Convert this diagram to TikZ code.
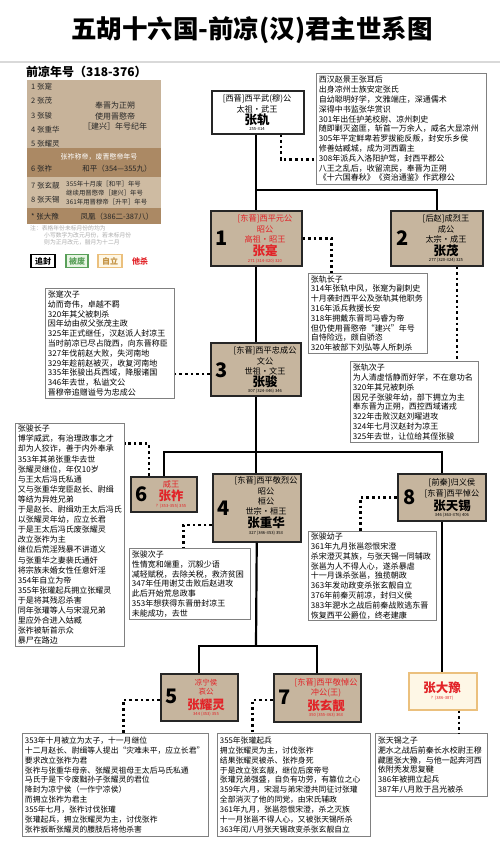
\documentclass[tikz,border=0pt]{standalone}
\usepackage{fontspec}
\setmainfont{Noto Sans CJK SC}
\definecolor{tanc}{RGB}{198,181,158}
\definecolor{tabA}{RGB}{199,179,154}
\definecolor{tabB}{RGB}{171,137,100}
\definecolor{tabC}{RGB}{206,187,162}
\definecolor{redc}{RGB}{226,35,40}
\definecolor{greenc}{RGB}{90,160,90}
\definecolor{greenfill}{RGB}{232,245,228}
\definecolor{orangec}{RGB}{235,192,125}
\definecolor{creamc}{RGB}{254,247,230}
\definecolor{orangetext}{RGB}{195,145,65}
\begin{document}
\begin{tikzpicture}[x=1pt,y=-1pt,
  king/.style={draw=black!85, line width=1.5pt, fill=tanc, inner sep=0, anchor=north west},
  num/.style={font=\fontsize{20}{20}\selectfont\bfseries, inner sep=0},
  ln/.style={font=\fontsize{8.2}{8.2}\selectfont, inner sep=0},
  nm/.style={font=\fontsize{12.5}{12.5}\selectfont\bfseries, inner sep=0},
  yr/.style={font=\fontsize{4.2}{4.2}\selectfont, inner sep=0},
  bio/.style={draw=black!50, line width=0.9pt, fill=white, anchor=north west, inner xsep=2.5pt, inner ysep=1.5pt, align=left, font=\fontsize{8}{9.8}\selectfont},
  sol/.style={line width=2.2pt, draw=black},
  dotl/.style={line width=2.5pt, draw=black, dash pattern=on 2.6pt off 3pt},
  tt/.style={font=\fontsize{7.5}{9}\selectfont, inner sep=0, text=black!85}]
\useasboundingbox (0,0) rectangle (500,855);
\fill[white] (0,0) rectangle (500,855);

% title
\node[font=\fontsize{25.5}{28}\selectfont\bfseries, inner sep=0] (title) at (252,30) {五胡十六国-前凉(汉)君主世系图};
\draw[gray!30, line width=2.5pt] (0,62) -- (500,62);

% era table
\node[anchor=west, font=\fontsize{12}{12}\selectfont\bfseries, inner sep=0] (hdr) at (26,72) {前凉年号（318-376）};
\fill[tabA] (27,80) rectangle (161,148);
\fill[tabB] (27,148) rectangle (161,177);
\fill[tabC] (27,177) rectangle (161,208);
\fill[tabB] (27,208) rectangle (161,224);
\node[tt,anchor=west] (k1) at (31,87) {1 张寔};
\node[tt,anchor=west] (k2) at (31,101) {2 张茂};
\node[tt,anchor=west] (k3) at (31,116) {3 张骏};
\node[tt,anchor=west] (k4) at (31,130) {4 张重华};
\node[tt,anchor=west] (k5) at (31,144) {5 张耀灵};
\node[tt, align=center, font=\fontsize{8}{10.5}\selectfont] (era1) at (115,116) {奉晋为正朔\\使用晋愍帝\\［建兴］年号纪年};
\node[tt, text=white, font=\fontsize{7}{7}\selectfont] (era2h) at (99,157) {张祚称帝，废晋愍帝年号};
\node[tt,anchor=west] (k6) at (31,169) {6 张祚};
\node[tt] (era2) at (117,169) {和平（354—355九）};
\node[tt,anchor=west] (k7) at (31,186) {7 张玄靓};
\node[tt,anchor=west] (k8) at (31,200) {8 张天锡};
\node[tt, anchor=west, align=left, font=\fontsize{6.4}{9.4}\selectfont] (era3) at (66,193) {355年十月废［和平］年号\\继续用晋愍帝［建兴］年号\\361年用晋穆帝［升平］年号};
\node[tt,anchor=west] (kx) at (31,217) {* 张大豫};
\node[tt] (era4) at (117,217) {凤凰（386二-387八）};
\node[anchor=north west, font=\fontsize{5.8}{7.3}\selectfont, text=gray!65, align=left, inner sep=0] (note) at (30,225) {注：表格年份未标月份的均为\\\hspace*{14pt}小写数字为改元月份，若未标月份\\\hspace*{14pt}则为正月改元，腊月为十二月};

% legend
\node[draw=black, line width=1.5pt, fill=white, minimum width=24pt, minimum height=13pt, inner sep=0, font=\fontsize{8}{8}\selectfont\bfseries] (lg1) at (43,261) {追封};
\node[draw=greenc, line width=1.2pt, fill=greenfill, text=greenc, minimum width=22pt, minimum height=13pt, inner sep=0, font=\fontsize{8}{8}\selectfont\bfseries] (lg2) at (77,261) {被废};
\node[draw=orangec, line width=1.2pt, fill=creamc, text=orangetext, minimum width=24pt, minimum height=13pt, inner sep=0, font=\fontsize{8}{8}\selectfont\bfseries] (lg3) at (110,261) {自立};
\node[text=redc, inner sep=0, font=\fontsize{8}{8}\selectfont\bfseries] (lg4) at (140,261) {他杀};

% ruler boxes
\node[king, fill=white, minimum width=92pt, minimum height=43pt] (n0) at (211,90) {};
\node[ln] (n0a) at (257,99) {[西晋]西平武(穆)公};
\node[ln] (n0b) at (257,109) {太祖·武王};
\node[nm] (n0c) at (257,120) {张轨};
\node[yr] (n0d) at (257,129) {255-314};

\node[king, minimum width=91pt, minimum height=55pt] (n1) at (210,210) {};
\node[num] (n1n) at (222,238) {1};
\node[ln,text=redc] (n1a) at (265,219) {[东晋]西平元公};
\node[ln,text=redc] (n1b) at (265,229) {昭公};
\node[ln,text=redc] (n1c) at (265,239) {高祖·昭王};
\node[nm,text=redc] (n1d) at (265,251) {张寔};
\node[yr,text=redc] (n1e) at (265,261) {271 (314-320) 320};

\node[king, minimum width=92pt, minimum height=55pt] (n2) at (390,210) {};
\node[num] (n2n) at (403,238) {2};
\node[ln] (n2a) at (446,219) {[后赵]成烈王};
\node[ln] (n2b) at (446,229) {成公};
\node[ln] (n2c) at (446,239) {太宗·成王};
\node[nm] (n2d) at (446,251) {张茂};
\node[yr] (n2e) at (446,260) {277 (320-324) 325};

\node[king, minimum width=90pt, minimum height=53pt] (n3) at (210,342) {};
\node[num] (n3n) at (222,370) {3};
\node[ln] (n3a) at (265,351) {[东晋]西平忠成公};
\node[ln] (n3b) at (265,361) {文公};
\node[ln] (n3c) at (265,371) {世祖·文王};
\node[nm] (n3d) at (265,382) {张骏};
\node[yr] (n3e) at (265,391) {307 (324-346) 346};

\node[king, minimum width=88pt, minimum height=68pt] (n4) at (212,473) {};
\node[num] (n4n) at (224,508) {4};
\node[ln] (n4a) at (266,481) {[东晋]西平敬烈公};
\node[ln] (n4b) at (266,491) {昭公};
\node[ln] (n4c) at (266,501) {桓公};
\node[ln] (n4d) at (266,511) {世宗·桓王};
\node[nm] (n4e) at (266,523) {张重华};
\node[yr] (n4f) at (266,533) {327 (346-353) 353};

\node[king, minimum width=66pt, minimum height=35pt] (n6) at (130,476) {};
\node[num] (n6n) at (142,494) {6};
\node[ln,text=redc] (n6a) at (171,484) {威王};
\node[nm,text=redc] (n6b) at (171,496) {张祚};
\node[yr,text=redc] (n6c) at (171,506) {？(353-355) 355};

\node[king, minimum width=88pt, minimum height=47pt] (n8) at (397,473) {};
\node[num] (n8n) at (410,497) {8};
\node[ln] (n8a) at (452,483) {[前秦]归义侯};
\node[ln] (n8b) at (452,494) {[东晋]西平悼公};
\node[nm] (n8c) at (452,506) {张天锡};
\node[yr] (n8d) at (452,515) {346 (363-376) 406};

\node[king, minimum width=77pt, minimum height=47pt] (n5) at (160,673) {};
\node[num] (n5n) at (172,696) {5};
\node[ln,text=redc,font=\fontsize{7.5}{7.5}\selectfont] (n5a) at (206,683) {凉宁侯};
\node[ln,text=redc,font=\fontsize{7.5}{7.5}\selectfont] (n5b) at (206,692) {哀公};
\node[nm,text=redc] (n5c) at (206,705) {张耀灵};
\node[yr,text=redc] (n5d) at (206,714) {344 (353) 355};

\node[king, minimum width=87pt, minimum height=48pt] (n7) at (273,673) {};
\node[num] (n7n) at (285,697) {7};
\node[ln,text=redc] (n7a) at (326,683) {[东晋]西平敬悼公};
\node[ln,text=redc] (n7b) at (326,693) {冲公(王)};
\node[nm,text=redc] (n7c) at (326,706) {张玄靓};
\node[yr,text=redc] (n7d) at (326,715) {350 (355-363) 363};

\node[king, draw=orangec, fill=creamc, minimum width=68pt, minimum height=37pt] (n9) at (408,672) {};
\node[nm,text=redc] (n9a) at (442,688) {张大豫};
\node[yr,text=redc] (n9b) at (442,698) {？(386-387)};

% bios
\node[bio, text width=165pt, minimum height=111pt] (bio0) at (316,73) {西汉赵景王张耳后\\出身凉州士族安定张氏\\自幼聪明好学，文雅端庄，深通儒术\\深得中书监张华赏识\\301年出任护羌校尉、凉州刺史\\随即剿灭盗匪，斩首一万余人，威名大显凉州\\305年平定鲜卑若罗拔能反叛，封安乐乡侯\\修善姑臧城，成为河西霸主\\308年派兵入洛阳护驾，封西平郡公\\八王之乱后，收留流民，奉晋为正朔\\《十六国春秋》《资治通鉴》作武穆公};

\node[bio, text width=114pt, minimum height=80pt] (bio1) at (308,273) {张轨长子\\314年张轨中风，张寔为副刺史\\十月袭封西平公及张轨其他职务\\316年派兵救援长安\\318年拥戴东晋司马睿为帝\\但仍使用晋愍帝“建兴”年号\\自恃险远，颇自骄恣\\320年被部下刘弘等人所刺杀};

\node[bio, text width=123pt, minimum height=81pt] (bio2) at (350,361) {张轨次子\\为人清虚恬静而好学，不在意功名\\320年其兄被刺杀\\因兄子张骏年幼，部下拥立为主\\奉东晋为正朔，西控西域诸戎\\322年击败汉赵刘曜进攻\\324年七月汉赵封为凉王\\325年去世，让位给其侄张骏};

\node[bio, text width=124pt, minimum height=110pt] (bio3) at (45,288) {张寔次子\\幼而奇伟，卓越不羁\\320年其父被刺杀\\因年幼由叔父张茂主政\\325年正式继任，汉赵派人封凉王\\当时前凉已尽占陇西，向东晋称臣\\327年伐前赵大败，失河南地\\329年趁前赵被灭，收复河南地\\335年张骏出兵西域，降服诸国\\346年去世，私谥文公\\晋穆帝追赠谥号为忠成公};

\node[bio, text width=104pt, minimum height=222pt, font=\fontsize{8}{10.1}\selectfont] (bio6) at (15,423) {张骏长子\\博学威武，有治理政事之才\\却为人狡诈，善于内外奉承\\353年其弟张重华去世\\张耀灵继位，年仅10岁\\与王太后冯氏私通\\又与张重华宠臣赵长、尉缉\\等结为异姓兄弟\\于是赵长、尉缉劝王太后冯氏\\以张耀灵年幼，应立长君\\于是王太后冯氏废张耀灵\\改立张祚为主\\继位后荒淫残暴不讲道义\\与张重华之妻裴氏通奸\\将宗族未婚女性任意奸淫\\354年自立为帝\\355年张瓘起兵拥立张耀灵\\于是将其残忍杀害\\同年张瓘等人与宋混兄弟\\里应外合进入姑臧\\张祚被斩首示众\\暴尸在路边};

\node[bio, text width=116pt, minimum height=71pt] (bio4) at (129,548) {张骏次子\\性情宽和端重，沉毅少语\\减轻赋税，去除关税，救济贫困\\347年任用谢艾击败后赵进攻\\此后开始荒怠政事\\353年想获得东晋册封凉王\\未能成功，去世};

\node[bio, text width=123pt, minimum height=89pt] (bio8) at (308,531) {张骏幼子\\361年九月张邕怨恨宋澄\\杀宋澄灭其族，与张天锡一同辅政\\张邕为人不得人心，遂杀暴虐\\十一月诛杀张邕，独揽朝政\\363年发动政变杀张玄靓自立\\376年前秦灭前凉，封归义侯\\383年淝水之战后前秦战败逃东晋\\恢复西平公爵位，终老建康};

\node[bio, text width=181pt, minimum height=103pt, font=\fontsize{7.8}{9.9}\selectfont] (bio5) at (22,733) {353年十月被立为太子，十一月继位\\十二月赵长、尉缉等人提出“灾难未平，应立长君”\\要求改立张祚为君\\张祚与张重华母亲、张耀灵祖母王太后马氏私通\\马氏于是下令废黜孙子张耀灵的君位\\降封为凉宁侯（一作宁凉侯）\\而拥立张祚为君主\\355年七月，张祚讨伐张瓘\\张瓘起兵，拥立张耀灵为主，讨伐张祚\\张祚扳断张耀灵的腰肢后将他杀害};

\node[bio, text width=148pt, minimum height=103pt, font=\fontsize{7.8}{9.9}\selectfont] (bio7) at (217,733) {355年张瓘起兵\\拥立张耀灵为主，讨伐张祚\\结果张耀灵被杀、张祚身死\\于是改立张玄靓，继位后废帝号\\张瓘兄弟强盛，自负有功劳，有篡位之心\\359年六月，宋混与弟宋澄共同征讨张瓘\\全部消灭了他的同党，由宋氏辅政\\361年九月，张邕怨恨宋澄，杀之灭族\\十一月张邕不得人心，又被张天锡所杀\\363年闰八月张天锡政变杀张玄靓自立};

\node[bio, text width=107pt, minimum height=63pt] (bio9) at (375,733) {张天锡之子\\淝水之战后前秦长水校尉王穆\\藏匿张大豫，与他一起奔河西\\依附秃发思复鞬\\386年被拥立起兵\\387年八月败于吕光被杀};

% solid lineage connectors
\coordinate (b1) at (256,190);
\coordinate (b3) at (256,452);
\coordinate (b4) at (256,646);
\draw[sol] (n0.south -| n1.north) -- (n1.north);
\draw[sol] (b1) -| (n2.north);
\draw[sol] (n1.south) -- (n1.south |- n3.north);
\draw[sol] (n3.south) -- (n3.south |- n4.north);
\draw[sol] (n6.north) |- (b3) -| (n8.north);
\draw[sol] (n4.south) -- (b4);
\draw[sol] (n5.north) |- (b4) -| (n7.north);
\draw[sol] (n8.south) -- (n8.south |- n9.north);

% dotted bio connectors
\coordinate (c0) at ([xshift=23pt]n0.south);
\draw[dotl] (c0) |- ([yshift=-30.5pt]bio0.west);
\draw[dotl] (n1.east) -| ([xshift=-36.5pt]bio1.north);
\coordinate (c2) at ([xshift=20pt]n2.south);
\draw[dotl] (c2) -- (c2 |- bio2.north);
\coordinate (c3) at ([yshift=-4.5pt]n3.west);
\draw[dotl] (c3) -- (c3 -| bio3.east);
\coordinate (c6) at ([xshift=-15pt]n6.north);
\draw[dotl] (c6) |- ([yshift=91pt]bio6.east);
\draw[dotl] ([yshift=-17pt]n4.west) -| ([xshift=-6.5pt]bio4.north);
\draw[dotl] (n8.west) -| ([xshift=-12pt]bio8.north);
\draw[dotl] ([yshift=-2.5pt]n5.west) -| ([xshift=8pt]bio5.north);
\draw[dotl] ([yshift=-2pt]n7.west) -| ([xshift=-41.5pt]bio7.north);
\coordinate (c9) at ([xshift=16pt]n9.south);
\draw[dotl] (c9) -- (c9 |- bio9.north);
\end{tikzpicture}
\end{document}
